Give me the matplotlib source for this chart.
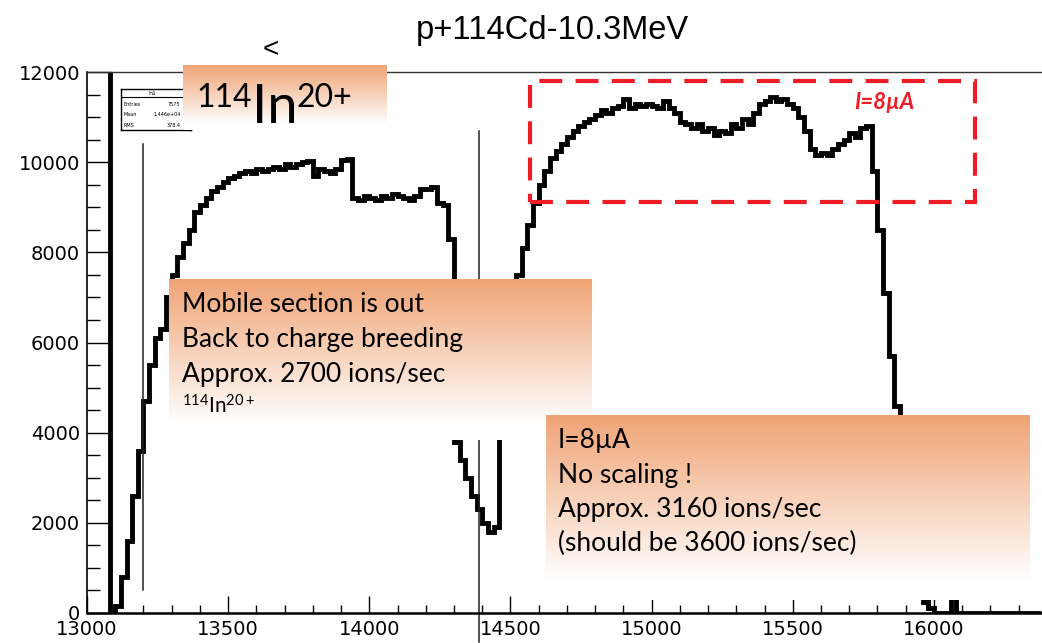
import numpy as np
import matplotlib.pyplot as plt
from matplotlib.patches import Rectangle

# ---- data (20-unit bins from 13000) ----
bin_start = 13000
bin_width = 20
counts = [
    14000, 14000, 14000, 14000, 0, 150, 800, 1600, 2600, 3600,          # 13000
    4700, 5500, 6100, 6300, 7000, 7500, 7900, 8200, 8500, 8900,         # 13200
    9050, 9200, 9350, 9450, 9550, 9650, 9700, 9750, 9800, 9750,         # 13400
    9850, 9800, 9850, 9900, 9850, 9950, 9900, 9950, 10000, 10020,       # 13600
    9700, 9850, 9800, 9750, 9850, 10050, 10080, 9200, 9150, 9250,       # 13800
    9200, 9150, 9250, 9200, 9300, 9250, 9200, 9150, 9250, 9400,         # 14000
    9400, 9450, 9100, 9050, 8300, 3800, 3400, 3000, 2600, 2300,         # 14200
    2000, 1800, 1900, 4000, 5500, 6700, 7500, 8100, 8600, 9100,         # 14400
    9500, 9800, 10100, 10250, 10400, 10550, 10700, 10800, 10900, 10950,  # 14600
    11050, 11150, 11100, 11200, 11250, 11400, 11200, 11300, 11250, 11300,  # 14800
    11250, 11200, 11350, 11200, 11100, 10900, 10850, 10750, 10850, 10700,  # 15000
    10750, 10600, 10700, 10650, 10850, 10750, 10950, 10850, 11100, 11300,  # 15200
    11350, 11450, 11350, 11400, 11300, 11200, 11000, 10700, 10300, 10150,  # 15400
    10200, 10150, 10300, 10400, 10500, 10650, 10550, 10750, 10800, 9800,   # 15600
    8500, 7100, 5700, 4600, 3500, 2400, 1400, 700, 250, 100,            # 15800
    0, 0, 0, 650, 0, 0, 0, 0, 0, 0,                                     # 16000
    0, 0, 0, 0, 0, 0, 0, 0, 0,                                          # 16200
]

# thin marker lines drawn on the canvas
marker_x = [13198, 14388]
marker_top = [10400, 10690]
marker_bottom = [500, -650]

x_major = [13000, 13500, 14000, 14500, 15000, 15500, 16000]
y_major = [0, 2000, 4000, 6000, 8000, 10000, 12000]

title = "p+114Cd-10.3MeV"
mobile_lines = ["Mobile section is out", "Back to charge breeding",
                "Approx. 2700 ions/sec"]
beam_lines = ["I=8µA", "No scaling !", "Approx. 3160 ions/sec",
              "(should be 3600 ions/sec)"]
highlight_x = (14570, 16145)
highlight_y = (9110, 11800)
highlight_label = "I=8µA"

W, H = 1042, 643
ORANGE = (0.94, 0.64, 0.455)

plt.rcParams['mathtext.fontset'] = 'custom'
plt.rcParams['mathtext.rm'] = 'Lato'
plt.rcParams['mathtext.it'] = 'Lato:italic'
plt.rcParams['mathtext.bf'] = 'Lato:bold'

fig = plt.figure(figsize=(W / 100, H / 100), dpi=100)
fig.patch.set_facecolor('white')


def fx(px):
    return px / W


def fy(py):
    return 1 - py / H


ax = fig.add_axes([fx(87), fy(613), (1042 - 87) / W, (613 - 72) / H])

edges = bin_start + bin_width * np.arange(len(counts) + 1)
ax.stairs(counts, edges, baseline=None, color='black', lw=3.5,
          joinstyle='miter')

for x, t, b in zip(marker_x, marker_top, marker_bottom):
    ax.plot([x, x], [b, t], color='#222222', lw=1.1, clip_on=False)

ax.add_patch(Rectangle((highlight_x[0], highlight_y[0]),
                       highlight_x[1] - highlight_x[0],
                       highlight_y[1] - highlight_y[0],
                       fill=False, ec='#ee1c25', lw=3,
                       ls=(0, (5.5, 3.2)), zorder=4))
ax.text(15825, 11330, highlight_label, color='#ee1c25', fontsize=16,
        fontweight='bold', style='italic', family=['Lato', 'DejaVu Sans'],
        ha='center', va='center')

ax.set_xlim(13000, 16383)
ax.set_ylim(0, 12000)
ax.set_xticks(x_major)
ax.set_xticks(np.arange(13000, 16400, 100), minor=True)
ax.set_yticks(y_major)
ax.set_yticks(np.arange(0, 12001, 500), minor=True)
ax.tick_params(axis='x', which='major', direction='in', length=12, width=1,
               pad=5, labelsize=14)
ax.tick_params(axis='x', which='minor', direction='in', length=6, width=1)
ax.tick_params(axis='y', which='major', direction='in', length=18, width=1,
               pad=5, labelsize=14)
ax.tick_params(axis='y', which='minor', direction='in', length=9, width=1)
for lab in ax.get_xticklabels() + ax.get_yticklabels():
    lab.set_family('DejaVu Sans')
ax.spines['right'].set_visible(False)
ax.spines['left'].set_linewidth(1.2)
ax.spines['bottom'].set_linewidth(1.8)
ax.spines['top'].set_linewidth(1.0)
ax.spines['top'].set_color('#333333')

fig.text(fx(552), fy(30), title, fontsize=23.5, family='Liberation Sans',
         ha='center', va='center')
fig.text(fx(271), fy(50), "<", fontsize=20, family='Liberation Sans',
         ha='center', va='center')

# small ROOT stats box, mostly hidden
sb = fig.add_axes([fx(121), fy(130), 70 / W, 41 / H], zorder=2)
sb.set_xticks([])
sb.set_yticks([])
for s in sb.spines.values():
    s.set_linewidth(1.0)
sb.axhline(0.8, color='black', lw=0.8)
sb.text(0.45, 0.9, "h1", fontsize=4.5, ha='center', va='center')
for i, (k, v) in enumerate([("Entries", "7575"), ("Mean", "1.446e+04"),
                            ("RMS", "378.4")]):
    sb.text(0.04, 0.62 - i * 0.25, k, fontsize=3.5, va='center')
    sb.text(0.85, 0.62 - i * 0.25, v, fontsize=3.5, va='center', ha='right')


def grad_box(x0, y0, x1, y1, fade=0.9):
    b = fig.add_axes([fx(x0), fy(y1), (x1 - x0) / W, (y1 - y0) / H], zorder=5)
    t = np.linspace(0, 1, 256)[:, None]
    f = np.clip(t / fade, 0, 1)[..., None]
    rgb = np.array(ORANGE)[None, None, :] * (1 - f) + f
    b.imshow(rgb, aspect='auto', extent=[0, 1, 0, 1], origin='upper')
    b.set_axis_off()
    return b


font = ['Lato', 'DejaVu Sans']

b1 = grad_box(183, 65, 387, 130)
b1.text(fx(196), fy(107), "114", transform=fig.transFigure, fontsize=23,
        family=font, va='baseline')
b1.text(fx(252), fy(123), "In", transform=fig.transFigure, fontsize=39,
        family=font, va='baseline')
b1.text(fx(297), fy(107), "20+", transform=fig.transFigure, fontsize=23,
        family=font, va='baseline')

b2 = grad_box(169, 279, 591, 440)
for i, s in enumerate(mobile_lines):
    b2.text(fx(182), fy(312 + 35 * i), s, transform=fig.transFigure,
            fontsize=19, family=font, va='baseline')
b2.text(fx(182), fy(414), r'$^{114}\mathrm{In}^{20+}$',
        transform=fig.transFigure, fontsize=15, va='baseline')

b3 = grad_box(546, 415, 1030, 600)
for i, s in enumerate(beam_lines):
    b3.text(fx(558), fy(448 + 34.5 * i), s, transform=fig.transFigure,
            fontsize=19, family=font, va='baseline')

fig.savefig('out.png', dpi=100)
